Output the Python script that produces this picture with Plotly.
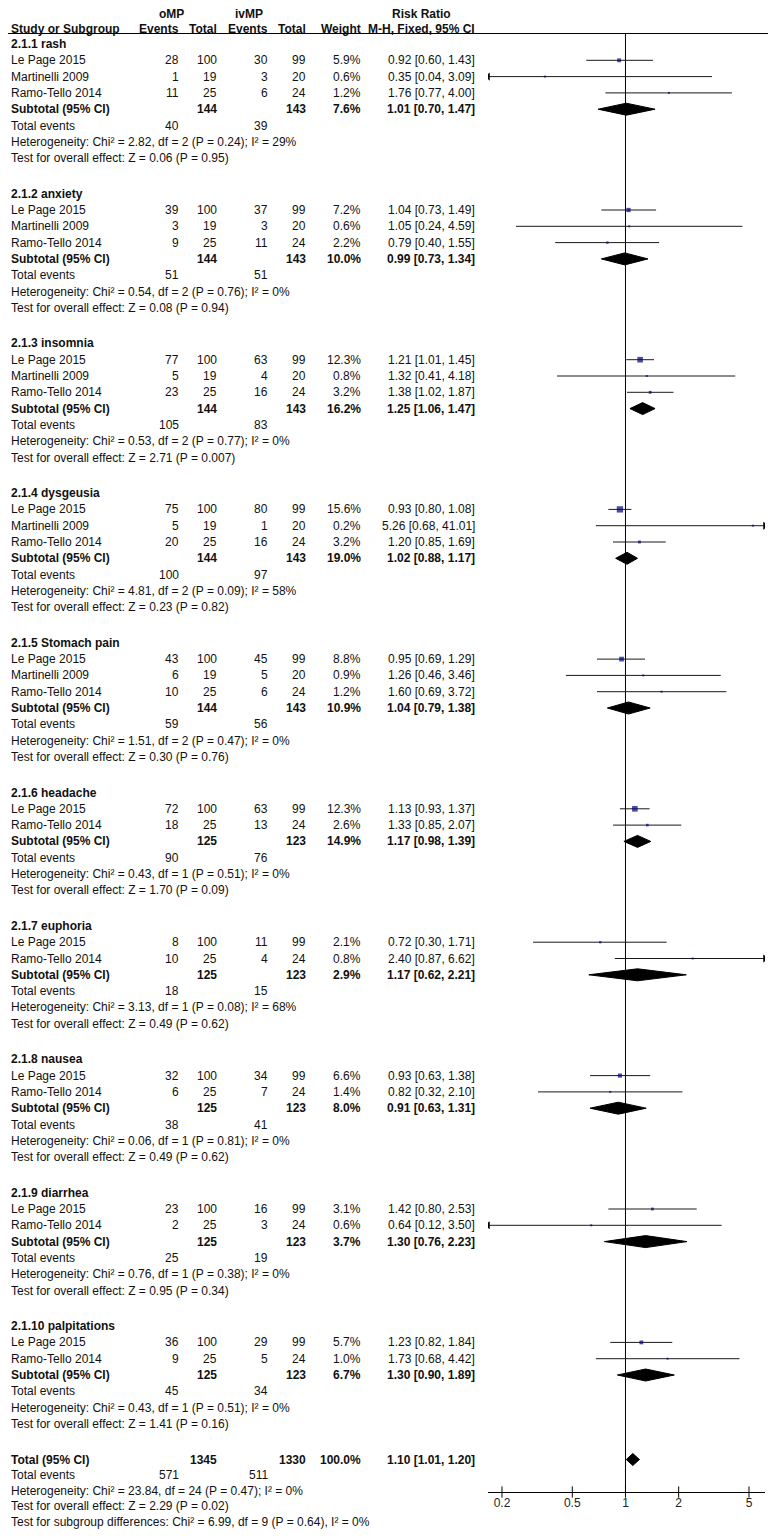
import math
import plotly.graph_objects as go

# ---- data ----
subgroups = ["2.1.1 rash", "2.1.2 anxiety", "2.1.3 insomnia", "2.1.4 dysgeusia", "2.1.5 Stomach pain",
             "2.1.6 headache", "2.1.7 euphoria", "2.1.8 nausea", "2.1.9 diarrhea", "2.1.10 palpitations"]
studies = [["Le Page 2015", "Martinelli 2009", "Ramo-Tello 2014"],
           ["Le Page 2015", "Martinelli 2009", "Ramo-Tello 2014"],
           ["Le Page 2015", "Martinelli 2009", "Ramo-Tello 2014"],
           ["Le Page 2015", "Martinelli 2009", "Ramo-Tello 2014"],
           ["Le Page 2015", "Martinelli 2009", "Ramo-Tello 2014"],
           ["Le Page 2015", "Ramo-Tello 2014"],
           ["Le Page 2015", "Ramo-Tello 2014"],
           ["Le Page 2015", "Ramo-Tello 2014"],
           ["Le Page 2015", "Ramo-Tello 2014"],
           ["Le Page 2015", "Ramo-Tello 2014"]]
omp_events = [[28, 1, 11], [39, 3, 9], [77, 5, 23], [75, 5, 20], [43, 6, 10],
              [72, 18], [8, 10], [32, 6], [23, 2], [36, 9]]
omp_total = [[100, 19, 25], [100, 19, 25], [100, 19, 25], [100, 19, 25], [100, 19, 25],
             [100, 25], [100, 25], [100, 25], [100, 25], [100, 25]]
imp_events = [[30, 3, 6], [37, 3, 11], [63, 4, 16], [80, 1, 16], [45, 5, 6],
              [63, 13], [11, 4], [34, 7], [16, 3], [29, 5]]
imp_total = [[99, 20, 24], [99, 20, 24], [99, 20, 24], [99, 20, 24], [99, 20, 24],
             [99, 24], [99, 24], [99, 24], [99, 24], [99, 24]]
weights = [[5.9, 0.6, 1.2], [7.2, 0.6, 2.2], [12.3, 0.8, 3.2], [15.6, 0.2, 3.2], [8.8, 0.9, 1.2],
           [12.3, 2.6], [2.1, 0.8], [6.6, 1.4], [3.1, 0.6], [5.7, 1.0]]
rr = [[0.92, 0.35, 1.76], [1.04, 1.05, 0.79], [1.21, 1.32, 1.38], [0.93, 5.26, 1.20], [0.95, 1.26, 1.60],
      [1.13, 1.33], [0.72, 2.40], [0.93, 0.82], [1.42, 0.64], [1.23, 1.73]]
rr_lo = [[0.60, 0.04, 0.77], [0.73, 0.24, 0.40], [1.01, 0.41, 1.02], [0.80, 0.68, 0.85], [0.69, 0.46, 0.69],
         [0.93, 0.85], [0.30, 0.87], [0.63, 0.32], [0.80, 0.12], [0.82, 0.68]]
rr_hi = [[1.43, 3.09, 4.00], [1.49, 4.59, 1.55], [1.45, 4.18, 1.87], [1.08, 41.01, 1.69], [1.29, 3.46, 3.72],
         [1.37, 2.07], [1.71, 6.62], [1.38, 2.10], [2.53, 3.50], [1.84, 4.42]]

sub_omp_total = [144, 144, 144, 144, 144, 125, 125, 125, 125, 125]
sub_imp_total = [143, 143, 143, 143, 143, 123, 123, 123, 123, 123]
sub_weight = [7.6, 10.0, 16.2, 19.0, 10.9, 14.9, 2.9, 8.0, 3.7, 6.7]
sub_rr = [1.01, 0.99, 1.25, 1.02, 1.04, 1.17, 1.17, 0.91, 1.30, 1.30]
sub_lo = [0.70, 0.73, 1.06, 0.88, 0.79, 0.98, 0.62, 0.63, 0.76, 0.90]
sub_hi = [1.47, 1.34, 1.47, 1.17, 1.38, 1.39, 2.21, 1.31, 2.23, 1.89]
sub_omp_events = [40, 51, 105, 100, 59, 90, 18, 38, 25, 45]
sub_imp_events = [39, 51, 83, 97, 56, 76, 15, 41, 19, 34]
het_chi2 = ["2.82", "0.54", "0.53", "4.81", "1.51", "0.43", "3.13", "0.06", "0.76", "0.43"]
het_df = [2, 2, 2, 2, 2, 1, 1, 1, 1, 1]
het_p = ["0.24", "0.76", "0.77", "0.09", "0.47", "0.51", "0.08", "0.81", "0.38", "0.51"]
het_i2 = [29, 0, 0, 58, 0, 0, 68, 0, 0, 0]
z_val = ["0.06", "0.08", "2.71", "0.23", "0.30", "1.70", "0.49", "0.49", "0.95", "1.41"]
z_p = ["0.95", "0.94", "0.007", "0.82", "0.76", "0.09", "0.62", "0.62", "0.34", "0.16"]

total_omp, total_imp = 1345, 1330
total_weight = 100.0
total_rr, total_lo, total_hi = 1.10, 1.01, 1.20
total_omp_events, total_imp_events = 571, 511
total_het = ("23.84", 24, "0.47", 0)
total_z = ("2.29", "0.02")
subgroup_diff = ("6.99", 9, "0.64", 0)

axis_ticks = [0.2, 0.5, 1, 2, 5]

# ---- layout constants (page pixels) ----
W, H = 776, 1537
BODY = 8        # default <body> margin of the written page
FW, FH = W - 2 * BODY, H - 2 * BODY
P = 16.3        # row pitch
P_END = 15.5    # slightly tighter pitch for the overall block
G = 35.6        # from last line of a subgroup to next header
Y0 = 44
HEAD1, HEAD2, RULE = 14, 28.5, 33.5
AXIS_Y = 1492
X_LEFT, X_RIGHT = 488, 765
XMIN, XMAX = 0.1667, 6.16
COL = dict(name=10, oe=180, ot=218, ie=269, it=307, w=362, rr=476)
FONT = "Liberation Sans, Arial, sans-serif"
FS = 12
TXT = "#111111"

annotations = []


def cell(x, y, text, anchor="right", bold=False, xref="x", size=FS):
    annotations.append(dict(
        x=x, y=y, xref=xref, yref="y", text=f"<b>{text}</b>" if bold else text,
        showarrow=False, xanchor=anchor, yanchor="middle", borderpad=0,
        font=dict(family=FONT, size=size, color=TXT)))


def rr_txt(e, l, h):
    return f"{e:.2f} [{l:.2f}, {h:.2f}]"


# header
cell(171, HEAD1, "oMP", "center", True)
cell(249, HEAD1, "ivMP", "center", True)
cell(421, HEAD1, "Risk Ratio", "center", True)
cell(COL["name"], HEAD2, "Study or Subgroup", "left", True)
cell(COL["oe"], HEAD2, "Events", bold=True)
cell(COL["ot"], HEAD2, "Total", bold=True)
cell(COL["ie"], HEAD2, "Events", bold=True)
cell(COL["it"], HEAD2, "Total", bold=True)
cell(COL["w"], HEAD2, "Weight", bold=True)
cell(COL["rr"], HEAD2, "M-H, Fixed, 95% CI", bold=True)
cell(1, HEAD1, "Risk Ratio", "center", True, xref="x2")
cell(1, HEAD2, "M-H, Fixed, 95% CI", "center", True, xref="x2")

ci_x, ci_y = [], []
sq_x, sq_y, sq_s = [], [], []
ar_x, ar_y, ar_sym = [], [], []
dia_x, dia_y = [], []


def diamond(e, l, h, y, hh=6):
    dia_x.extend([l, e, h, e, l, None])
    dia_y.extend([y, y - hh, y, y + hh, y, None])


y = Y0
for g, name in enumerate(subgroups):
    cell(COL["name"], y, name, "left", True)
    for k, st in enumerate(studies[g]):
        y += P
        cell(COL["name"], y, st, "left")
        cell(COL["oe"], y, omp_events[g][k])
        cell(COL["ot"], y, omp_total[g][k])
        cell(COL["ie"], y, imp_events[g][k])
        cell(COL["it"], y, imp_total[g][k])
        cell(COL["w"], y, f"{weights[g][k]:.1f}%")
        cell(COL["rr"], y, rr_txt(rr[g][k], rr_lo[g][k], rr_hi[g][k]))
        lo, hi = rr_lo[g][k], rr_hi[g][k]
        ci_x.extend([max(lo, XMIN), min(hi, XMAX), None])
        ci_y.extend([y, y, None])
        if lo < XMIN:
            ar_x.append(XMIN); ar_y.append(y); ar_sym.append("triangle-left")
        if hi > XMAX:
            ar_x.append(XMAX); ar_y.append(y); ar_sym.append("triangle-right")
        sq_x.append(rr[g][k]); sq_y.append(y)
        sq_s.append(max(2.0, 1.6 * math.sqrt(weights[g][k])))
    y += P
    cell(COL["name"], y, "Subtotal (95% CI)", "left", True)
    cell(COL["ot"], y, sub_omp_total[g], bold=True)
    cell(COL["it"], y, sub_imp_total[g], bold=True)
    cell(COL["w"], y, f"{sub_weight[g]:.1f}%", bold=True)
    cell(COL["rr"], y, rr_txt(sub_rr[g], sub_lo[g], sub_hi[g]), bold=True)
    diamond(sub_rr[g], sub_lo[g], sub_hi[g], y)
    y += P
    cell(COL["name"], y, "Total events", "left")
    cell(COL["oe"], y, sub_omp_events[g])
    cell(COL["ie"], y, sub_imp_events[g])
    y += P
    cell(COL["name"], y, f"Heterogeneity: Chi² = {het_chi2[g]}, df = {het_df[g]} (P = {het_p[g]}); I² = {het_i2[g]}%", "left")
    y += P
    cell(COL["name"], y, f"Test for overall effect: Z = {z_val[g]} (P = {z_p[g]})", "left")
    y += G

# overall total
cell(COL["name"], y, "Total (95% CI)", "left", True)
cell(COL["ot"], y, total_omp, bold=True)
cell(COL["it"], y, total_imp, bold=True)
cell(COL["w"], y, f"{total_weight:.1f}%", bold=True)
cell(COL["rr"], y, rr_txt(total_rr, total_lo, total_hi), bold=True)
diamond(total_rr, total_lo, total_hi, y)
y += P_END
cell(COL["name"], y, "Total events", "left")
cell(COL["oe"], y, total_omp_events)
cell(COL["ie"], y, total_imp_events)
y += P_END
cell(COL["name"], y, "Heterogeneity: Chi² = {}, df = {} (P = {}); I² = {}%".format(*total_het), "left")
y += P_END
cell(COL["name"], y, "Test for overall effect: Z = {} (P = {})".format(*total_z), "left")
y += P_END
cell(COL["name"], y, "Test for subgroup differences: Chi² = {}, df = {} (P = {}), I² = {}%".format(*subgroup_diff), "left")

fig = go.Figure()

# line of no effect
fig.add_trace(go.Scatter(x=[1, 1], y=[RULE, AXIS_Y], mode="lines", xaxis="x2", yaxis="y",
                         line=dict(color="black", width=1), hoverinfo="skip"))
# confidence intervals
fig.add_trace(go.Scatter(x=ci_x, y=ci_y, mode="lines", xaxis="x2", yaxis="y",
                         line=dict(color="#1a1a1a", width=1), hoverinfo="skip"))
fig.add_trace(go.Scatter(x=ar_x, y=ar_y, mode="markers", xaxis="x2", yaxis="y",
                         marker=dict(symbol=ar_sym, size=7, color="black"), hoverinfo="skip"))
# study weights
fig.add_trace(go.Scatter(x=sq_x, y=sq_y, mode="markers", xaxis="x2", yaxis="y",
                         marker=dict(symbol="square", size=sq_s, color="#00007f", line=dict(width=0))))
# pooled diamonds
fig.add_trace(go.Scatter(x=dia_x, y=dia_y, mode="lines", fill="toself", fillcolor="black",
                         xaxis="x2", yaxis="y", line=dict(color="black", width=1), hoverinfo="skip"))
# crossing ticks on the axis
fig.add_trace(go.Scatter(x=axis_ticks, y=[AXIS_Y] * len(axis_ticks), mode="markers", xaxis="x2", yaxis="y",
                         marker=dict(symbol="line-ns", size=8, line=dict(width=1, color="black")),
                         hoverinfo="skip"))

annotations.append(dict(x=1, y=1519, xref="x2", yref="y", text="Favours [oMP]", showarrow=False,
                        xanchor="right", yanchor="middle", xshift=-5,
                        font=dict(family=FONT, size=FS, color="#222")))
annotations.append(dict(x=1, y=1519, xref="x2", yref="y", text="Favours [ivMP]", showarrow=False,
                        xanchor="left", yanchor="middle", xshift=5,
                        font=dict(family=FONT, size=FS, color="#222")))

# the page body adds an 8px margin, so the figure covers page pixels BODY..W-BODY
fig.update_layout(
    width=FW, height=FH,
    margin=dict(l=0, r=0, t=0, b=0),
    paper_bgcolor="white", plot_bgcolor="white",
    showlegend=False,
    xaxis=dict(range=[BODY, W - BODY], domain=[0, 1], visible=False),
    xaxis2=dict(type="log", range=[math.log10(XMIN), math.log10(XMAX)],
                domain=[(X_LEFT - BODY) / FW, (X_RIGHT - BODY) / FW],
                anchor="free", position=1 - (AXIS_Y - BODY) / FH,
                showline=True, linecolor="black", linewidth=1, showgrid=False, zeroline=False,
                ticks="", tickvals=axis_ticks, ticktext=[str(t) for t in axis_ticks],
                tickfont=dict(family=FONT, size=FS, color="#222")),
    yaxis=dict(range=[H - BODY, BODY], domain=[0, 1], visible=False),
    annotations=annotations,
    shapes=[dict(type="line", xref="paper", yref="y", x0=0, x1=1, y0=RULE, y1=RULE,
                 line=dict(color="black", width=1))],
)

fig.write_html("out.html")
